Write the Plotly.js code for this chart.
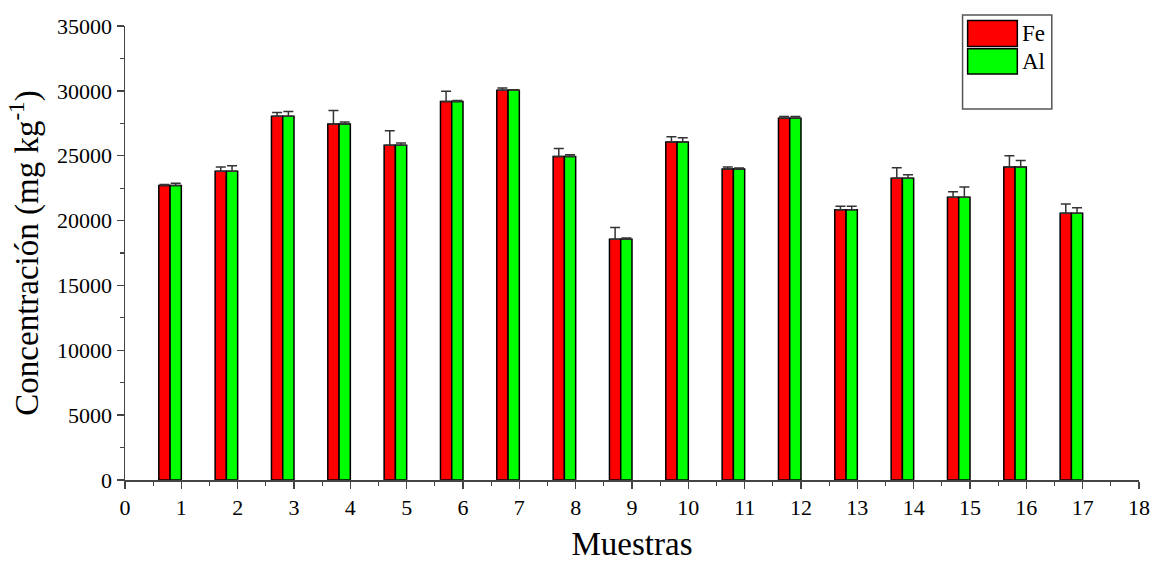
<!DOCTYPE html>
<html>
<head>
<meta charset="utf-8">
<script src="https://cdn.plot.ly/plotly-3.0.1.min.js"></script>
<style>html,body{margin:0;padding:0;background:#fff;}#chart{width:1153px;height:562px;}</style>
</head>
<body>
<div id="chart"></div>
<script>
const samples = [1,2,3,4,5,6,7,8,9,10,11,12,13,14,15,16,17];
const feValues = [22700,23800,28050,27450,25800,29170,30040,24930,18560,26060,23980,27880,20840,23260,21790,24130,20560];
const alValues = [22700,23800,28050,27450,25800,29170,30040,24930,18560,26060,23980,27880,20840,23260,21790,24130,20560];
const feErrors = [80,330,280,1030,1130,800,180,620,900,410,150,150,260,820,430,870,720];
const alErrors = [170,430,360,150,180,80,50,150,100,330,80,150,260,280,800,510,430];
const seriesNames = ['Fe','Al'];
const seriesColors = ['#ff0000','#00ff00'];
const zeros = samples.map(() => 0);

const serif = 'Liberation Serif, Times New Roman, serif';

function barTrace(name, values, errs, color, offset) {
  return {
    type: 'bar', name: name, x: samples, y: values,
    width: 0.2, offset: offset,
    marker: {color: color, line: {color: '#000', width: 1.5}},
    error_y: {type: 'data', array: errs, arrayminus: zeros, symmetric: false,
              color: '#333', thickness: 1.5, width: 5},
    showlegend: false
  };
}

const traces = [
  barTrace(seriesNames[0], feValues, feErrors, seriesColors[0], -0.4),
  barTrace(seriesNames[1], alValues, alErrors, seriesColors[1], -0.2)
];

const layout = {
  width: 1153, height: 562,
  margin: {l: 125, r: 14, t: 26, b: 82},
  paper_bgcolor: '#fff', plot_bgcolor: '#fff',
  barmode: 'overlay',
  font: {family: serif, color: '#000'},
  xaxis: {
    range: [0, 18], dtick: 1, tick0: 0,
    showgrid: false, zeroline: false,
    showline: true, linecolor: '#444', linewidth: 1.5,
    ticks: 'outside', ticklen: 7, tickwidth: 1.5, tickcolor: '#444',
    minor: {dtick: 0.5, ticks: 'outside', ticklen: 4, tickwidth: 1.2, tickcolor: '#444'},
    tickfont: {family: serif, size: 22, color: '#000'},
    title: {text: 'Muestras', font: {family: serif, size: 33, color: '#000'}, standoff: 22}
  },
  yaxis: {
    range: [0, 35000], dtick: 5000, tick0: 0,
    showgrid: false, zeroline: false,
    showline: true, linecolor: '#444', linewidth: 1.5,
    ticks: 'outside', ticklen: 7, tickwidth: 1.5, tickcolor: '#444',
    minor: {dtick: 2500, ticks: 'outside', ticklen: 4, tickwidth: 1.2, tickcolor: '#444'},
    tickfont: {family: serif, size: 22, color: '#000'},
    tickformat: 'd',
    title: {text: 'Concentración (mg kg<sup>-1</sup>)', font: {family: serif, size: 33, color: '#000'}, standoff: 8}
  },
  shapes: [
    {type: 'rect', xref: 'paper', yref: 'paper', x0: 0.826, x1: 0.914, y0: 0.817, y1: 1.024,
     line: {color: '#555', width: 1.5}, fillcolor: '#fff'},
    {type: 'rect', xref: 'paper', yref: 'paper', x0: 0.831, x1: 0.88, y0: 0.955, y1: 1.012,
     line: {color: '#000', width: 1.5}, fillcolor: seriesColors[0]},
    {type: 'rect', xref: 'paper', yref: 'paper', x0: 0.831, x1: 0.88, y0: 0.894, y1: 0.95,
     line: {color: '#000', width: 1.5}, fillcolor: seriesColors[1]}
  ],
  annotations: [
    {xref: 'paper', yref: 'paper', x: 0.883, y: 0.984, text: seriesNames[0], showarrow: false,
     xanchor: 'left', yanchor: 'middle', font: {family: serif, size: 23, color: '#000'}},
    {xref: 'paper', yref: 'paper', x: 0.883, y: 0.922, text: seriesNames[1], showarrow: false,
     xanchor: 'left', yanchor: 'middle', font: {family: serif, size: 23, color: '#000'}}
  ]
};

Plotly.newPlot('chart', traces, layout, {staticPlot: true, displayModeBar: false});
</script>
</body>
</html>
